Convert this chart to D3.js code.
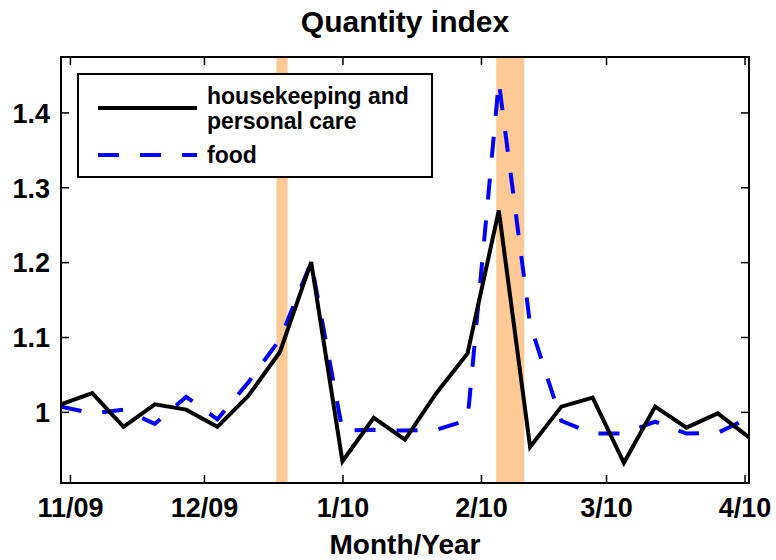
<!DOCTYPE html>
<html>
<head>
<meta charset="utf-8">
<script src="https://cdn.jsdelivr.net/npm/d3@7"></script>
<style>
  html, body { margin: 0; padding: 0; background: #fff; }
  svg { display: block; font-family: "Liberation Sans", Arial, Helvetica, sans-serif; font-weight: bold; }
</style>
</head>
<body>
<svg id="chart" width="776" height="560"></svg>
<script>
const weeks = ["2009-10-30","2009-11-06","2009-11-13","2009-11-20","2009-11-27","2009-12-04","2009-12-11","2009-12-18","2009-12-25",
  "2010-01-01","2010-01-08","2010-01-15","2010-01-22","2010-01-29","2010-02-05","2010-02-12","2010-02-19","2010-02-26",
  "2010-03-05","2010-03-12","2010-03-19","2010-03-26","2010-04-02"];
const housekeeping = [1.010, 1.025, 0.980, 1.010, 1.003, 0.980, 1.022, 1.080, 1.200, 0.934, 0.992, 0.963, 1.025, 1.078, 1.269, 0.953, 1.007, 1.019, 0.932, 1.007, 0.979, 0.998, 0.966];
const food = [1.007, 0.998, 1.003, 0.984, 1.020, 0.990, 1.040, 1.097, 1.200, 0.975, 0.976, 0.975, 0.976, 0.989, 1.441, 1.117, 0.988, 0.971, 0.971, 0.987, 0.971, 0.972, 0.992];
const seriesNames = ["housekeeping and|personal care", "food"];
const bands = [["2009-12-17T05:00", "2009-12-19T17:00"], ["2010-02-04T10:00", "2010-02-10T17:00"]];
const xTicks = ["2009-11-01","2009-12-01","2010-01-01","2010-02-01","2010-03-01","2010-04-01"];
const yTicks = [1, 1.1, 1.2, 1.3, 1.4];
const xDomain = ["2009-10-30", "2010-04-02"];
const yDomain = [0.905, 1.474];
const title = "Quantity index";
const xTitle = "Month/Year";

const parse = d3.isoParse;
const svg = d3.select("#chart");
const L = 61, R = 749, T = 57, B = 483;
const x = d3.scaleTime().domain(xDomain.map(parse)).range([L, R]);
const y = d3.scaleLinear().domain(yDomain).range([B, T]);

svg.append("defs").append("clipPath").attr("id", "clip")
  .append("rect").attr("x", L).attr("y", T).attr("width", R - L).attr("height", B - T);

// bands
svg.append("g").selectAll("rect").data(bands).join("rect")
  .attr("x", d => x(parse(d[0])))
  .attr("width", d => x(parse(d[1])) - x(parse(d[0])))
  .attr("y", T).attr("height", B - T)
  .attr("fill", "#fdca96");

const pts = (vals) => weeks.map((w, i) => [parse(w), vals[i]]);
const line = d3.line().x(d => x(d[0])).y(d => y(d[1]));
const g = svg.append("g").attr("clip-path", "url(#clip)");
g.append("path").datum(pts(food)).attr("d", line).attr("fill", "none")
  .attr("stroke", "#0000ff").attr("stroke-width", 4).attr("stroke-dasharray", "21,21");
g.append("path").datum(pts(housekeeping)).attr("d", line).attr("fill", "none")
  .attr("stroke", "#000").attr("stroke-width", 4);

// axes
const tickVals = xTicks.map(parse);
const fmt = d3.timeFormat("%-m/%y");
const ax = svg.append("g").attr("transform", `translate(0,${B})`)
  .call(d3.axisBottom(x).tickValues(tickVals).tickFormat(fmt).tickSizeInner(-8).tickSizeOuter(0).tickPadding(15));
const at = svg.append("g").attr("transform", `translate(0,${T})`)
  .call(d3.axisTop(x).tickValues(tickVals).tickFormat("").tickSizeInner(-8).tickSizeOuter(0));
const ay = svg.append("g").attr("transform", `translate(${L},0)`)
  .call(d3.axisLeft(y).tickValues(yTicks).tickFormat(d3.format("")).tickSizeInner(-8).tickSizeOuter(0).tickPadding(11));
const ar = svg.append("g").attr("transform", `translate(${R},0)`)
  .call(d3.axisRight(y).tickValues(yTicks).tickFormat("").tickSizeInner(-8).tickSizeOuter(0));
[ax, at, ay, ar].forEach(a => {
  a.select(".domain").remove();
  a.selectAll(".tick line").attr("stroke", "#000").attr("stroke-width", 1.5);
  a.selectAll("text").attr("fill", "#000").style("font-size", "27px").style("font-weight", "bold")
    .style("font-family", '"Liberation Sans", Arial, sans-serif');
});
ay.selectAll("text").attr("dy", "0.36em");
ax.selectAll("text").attr("dy", "0.71em");

svg.append("rect").attr("x", L).attr("y", T).attr("width", R - L).attr("height", B - T)
  .attr("fill", "none").attr("stroke", "#000").attr("stroke-width", 2);

// titles
svg.append("text").attr("x", (L + R) / 2).attr("y", 32).attr("text-anchor", "middle")
  .style("font-size", "30px").text(title);
svg.append("text").attr("x", (L + R) / 2).attr("y", 554).attr("text-anchor", "middle")
  .style("font-size", "28px").text(xTitle);

// legend
const lg = svg.append("g");
lg.append("rect").attr("x", 78).attr("y", 74).attr("width", 354).attr("height", 103)
  .attr("fill", "#fff").attr("stroke", "#000").attr("stroke-width", 2);
const legendItems = [
  { name: seriesNames[0], color: "#000", dash: null, ly: 108 },
  { name: seriesNames[1], color: "#0000ff", dash: "21,21", ly: 155 }
];
legendItems.forEach(it => {
  lg.append("line").attr("x1", 98).attr("x2", 197).attr("y1", it.ly).attr("y2", it.ly)
    .attr("stroke", it.color).attr("stroke-width", 4).attr("stroke-dasharray", it.dash);
  const lines = it.name.split("|");
  const t = lg.append("text").attr("x", 207).style("font-size", "23px");
  lines.forEach((s, i) => {
    t.append("tspan").attr("x", 207)
      .attr("y", it.ly + 8 + (i - (lines.length - 1) / 2) * 25).text(s);
  });
});
</script>
</body>
</html>
